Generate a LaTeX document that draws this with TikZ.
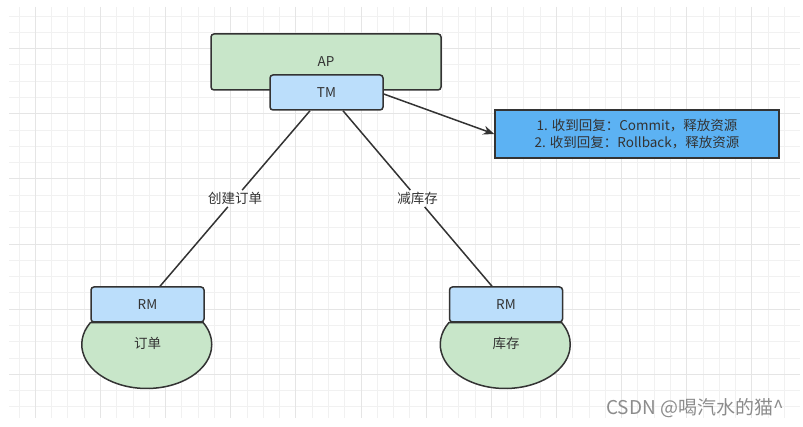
\documentclass[tikz,border=0pt]{standalone}
\usepackage{fontspec}
\setmainfont{Noto Sans CJK SC}
\usetikzlibrary{calc, arrows.meta}
\definecolor{gridthin}{RGB}{241,241,241}
\definecolor{gridthick}{RGB}{229,229,229}
\definecolor{edge}{RGB}{51,51,51}
\definecolor{darktext}{RGB}{51,51,51}
\definecolor{apgreen}{RGB}{200,230,201}
\definecolor{tmblue}{RGB}{187,222,251}
\definecolor{noteblue}{RGB}{92,178,243}
\definecolor{wmgray}{RGB}{140,140,140}

\begin{document}
\begin{tikzpicture}[x = 1pt, y = -1pt, font = \fontsize{13.5}{17}\selectfont,
		box/.style = {draw = edge, line width = 1.5pt, rounded corners = 3pt, inner sep = 0pt, text = darktext},
		drum/.style = {draw = edge, fill = apgreen, line width = 1.5pt},
		link/.style = {draw = edge, line width = 1.5pt}]
	\useasboundingbox (0,0) rectangle (803,427);
	\begin{scope}[line width = 0.9pt]
		\foreach \i in {0,...,47}
			\draw [gridthin] ({19+16.285*\i},7) -- ({19+16.285*\i},418);
		\foreach \j in {0,...,24}
			\draw [gridthin] (9,{16+16.285*\j}) -- (800,{16+16.285*\j});
		\foreach \i in {1,5,...,45}
			\draw [gridthick] ({19+16.285*\i},7) -- ({19+16.285*\i},418);
		\foreach \j in {2,6,...,22}
			\draw [gridthick] (9,{16+16.285*\j}) -- (800,{16+16.285*\j});
	\end{scope}
	\begin{scope}
		\node [box, fill = tmblue, minimum width = 113pt, minimum height = 35pt] (rmA) at (147.5,304.5) {RM};
		\node [box, fill = tmblue, minimum width = 113pt, minimum height = 35pt] (rmB) at (506,304.5) {RM};
		\draw [drum] (rmA.south west) arc [start angle = 150.4, end angle = 389.6, x radius = 65pt, y radius = 44pt] -- cycle;
		\draw [drum] (rmB.south west) arc [start angle = 150.4, end angle = 389.6, x radius = 65pt, y radius = 44pt] -- cycle;
		\node [text = darktext] (orders) at ([yshift = -21pt]rmA.south) {订单};
		\node [text = darktext] (stock) at ([yshift = -21pt]rmB.south) {库存};
	\end{scope}
	\begin{scope}
		\node [box, fill = apgreen, minimum width = 230pt, minimum height = 56pt] (ap) at (326,62) {AP};
		\node [box, fill = tmblue, minimum width = 113pt, minimum height = 35pt] (tm) at (326.5,92.5) {TM};
		\node [draw = edge, line width = 1.5pt, fill = noteblue, text = darktext, minimum width = 284pt, minimum height = 48pt, align = center, inner sep = 0pt] (note) at (637,134) {1. 收到回复：Commit，释放资源\\2. 收到回复：Rollback，释放资源};
	\end{scope}
	\begin{scope}
		\coordinate (tmL) at ([xshift = -16.5pt]tm.south);
		\coordinate (tmR) at ([xshift = 16.5pt]tm.south);
		\coordinate (rmAtop) at ([xshift = 12.5pt]rmA.north);
		\coordinate (rmBtop) at ([xshift = -14pt]rmB.north);
		\node [text = darktext, inner sep = 2pt] (create) at ($(tmL)!0.5!(rmAtop)$) {创建订单};
		\node [text = darktext, inner sep = 2pt] (reduce) at ($(tmR)!0.5!(rmBtop)$) {减库存};
		\draw [link] (tmL) -- (create) -- (rmAtop);
		\draw [link] (tmR) -- (reduce) -- (rmBtop);
		\draw [link, -{Stealth[length = 11pt, width = 9pt]}] ([yshift = -1.5pt]tm.east) -- (note.west);
	\end{scope}
	\node [anchor = west, text = wmgray, font = \fontsize{19}{22}\selectfont, inner sep = 0pt] (mark) at (606,408) {CSDN @喝汽水的猫\^{}};
\end{tikzpicture}
\end{document}
